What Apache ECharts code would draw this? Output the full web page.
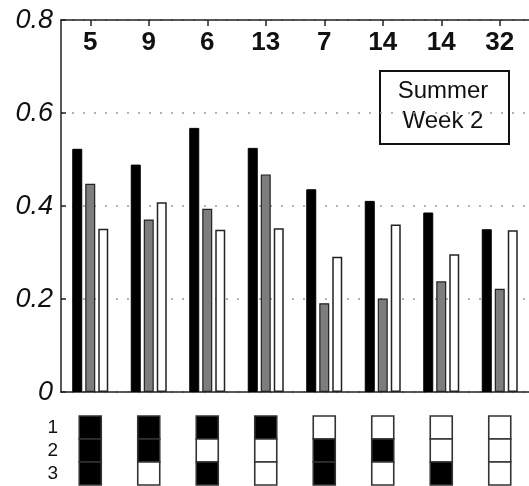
<!DOCTYPE html>
<html>
<head>
<meta charset="utf-8">
<script src="https://cdn.jsdelivr.net/npm/echarts@6/dist/echarts.min.js"></script>
<style>
html,body{margin:0;padding:0;background:#fff;}
#chart{width:529px;height:486px;}
</style>
</head>
<body>
<div id="chart"></div>
<script>
// Data
const sites = ['S1','S2','S3','S4','S5','S6','S7','S8'];
const counts = ['5','9','6','13','7','14','14','32'];
const blackVals = [0.523,0.489,0.568,0.525,0.436,0.411,0.386,0.350];
const grayVals  = [0.448,0.371,0.394,0.468,0.191,0.201,0.238,0.222];
const whiteVals = [0.351,0.408,0.349,0.352,0.291,0.360,0.296,0.348];
const rowLabels = ['1','2','3'];
const row1 = [1,1,1,1,0,0,0,0];
const row2 = [1,1,0,0,1,1,0,0];
const row3 = [1,0,1,0,1,0,1,0];
const yTicks = [0,0.2,0.4,0.6,0.8];

const rows = [row1,row2,row3];
const cells = [];
rows.forEach((r,ri)=>r.forEach((v,xi)=>cells.push([xi,ri,v])));

const FONT = '"Liberation Sans", Arial, Helvetica, sans-serif';
const chart = echarts.init(document.getElementById('chart'));
chart.setOption({
  animation:false,
  backgroundColor:'#fff',
  grid:[
    {left:61, top:20, width:470, height:372},
    {left:61, top:416, width:470, height:69}
  ],
  xAxis:[
    {type:'category', gridIndex:0, data:sites, position:'bottom',
     axisLine:{show:true, lineStyle:{color:'#222', width:1.5}},
     axisTick:{show:false}, axisLabel:{show:false}},
    {type:'category', gridIndex:0, data:sites, position:'top',
     axisLine:{show:true, lineStyle:{color:'#222', width:1.5}},
     axisTick:{show:true, inside:true, alignWithLabel:true, length:6, lineStyle:{color:'#222', width:1.5}},
     axisLabel:{show:true, inside:true, interval:0, margin:10, color:'#111', fontFamily:FONT, fontWeight:'bold', fontSize:26,
       formatter:(v,i)=>counts[i]}},
    {type:'category', gridIndex:1, data:sites, show:false}
  ],
  yAxis:[
    {type:'value', gridIndex:0, min:yTicks[0], max:yTicks[yTicks.length-1], interval:0.2,
     axisLine:{show:true, lineStyle:{color:'#222', width:1.5}},
     axisTick:{show:true, inside:true, length:5, lineStyle:{color:'#222', width:1.5}},
     axisLabel:{color:'#111', fontFamily:FONT, fontStyle:'italic', fontSize:27, margin:8,
       formatter:v=>String(+v.toFixed(1))},
     splitLine:{show:true, lineStyle:{color:'#999', width:1.5, type:[2,9]}}},
    {type:'category', gridIndex:1, data:rowLabels, inverse:true,
     axisLine:{show:false}, axisTick:{show:false}, splitLine:{show:false},
     axisLabel:{interval:0, hideOverlap:false, color:'#111', fontFamily:FONT, fontSize:19, margin:3}}
  ],
  series:[
    {type:'bar', xAxisIndex:0, yAxisIndex:0, data:blackVals, barWidth:10, barGap:'30%',
     itemStyle:{color:'#000', borderColor:'#000', borderWidth:1}},
    {type:'bar', xAxisIndex:0, yAxisIndex:0, data:grayVals, barWidth:10, barGap:'30%',
     itemStyle:{color:'#7d7d7d', borderColor:'#222', borderWidth:1.2}},
    {type:'bar', xAxisIndex:0, yAxisIndex:0, data:whiteVals, barWidth:10, barGap:'30%',
     itemStyle:{color:'#fff', borderColor:'#222', borderWidth:1.5}},
    {type:'custom', xAxisIndex:2, yAxisIndex:1, data:cells,
     renderItem:function(params, api){
       const c = api.coord([api.value(0), api.value(1)]);
       const h = api.size([0,1])[1];
       return {type:'rect', shape:{x:c[0]-11, y:c[1]-h/2, width:22, height:h},
         style:{fill: api.value(2) ? '#000' : '#fff', stroke:'#333', lineWidth:1.6}};
     }}
  ],
  graphic:[
    {type:'rect', left:379, top:70, shape:{width:129, height:73},
     style:{fill:'#fff', stroke:'#111', lineWidth:2}},
    {type:'text', x:443, y:106, style:{text:'Summer\nWeek 2', fontFamily:FONT, fontSize:24, lineHeight:30,
      fill:'#111', align:'center', verticalAlign:'middle'}}
  ]
});
</script>
</body>
</html>
